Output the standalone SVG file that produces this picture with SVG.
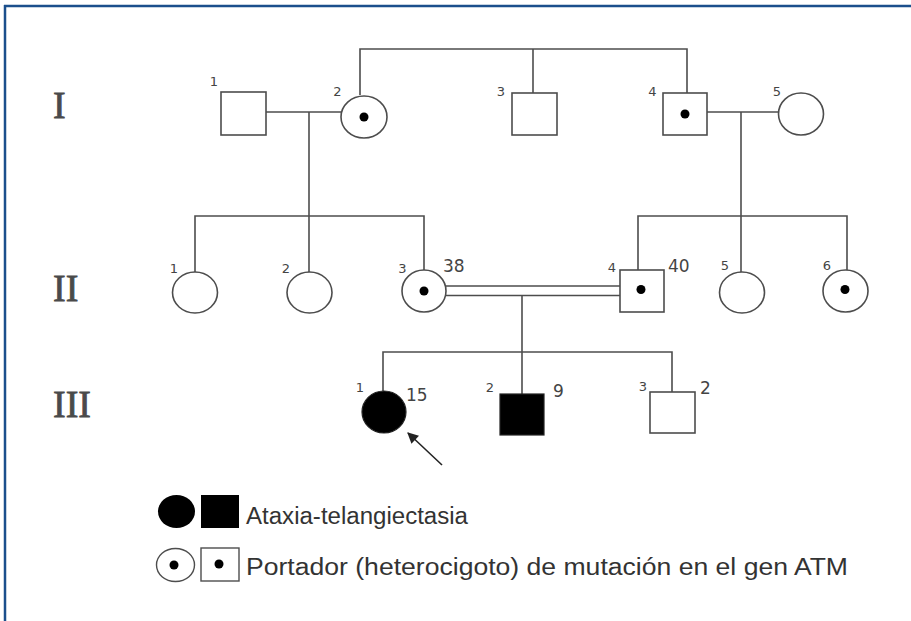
<svg xmlns="http://www.w3.org/2000/svg" width="911" height="621" viewBox="0 0 911 621">
<style>
.ln{stroke:#4d4d4d;stroke-width:1.6;fill:none}
.sh{stroke:#4d4d4d;stroke-width:1.6;fill:#fff}
.af{fill:#000;stroke:#222;stroke-width:1.2}
.dot{fill:#000}
.gen{font-family:"Liberation Serif","Times New Roman",serif;font-size:38px;fill:#4a4a4a;stroke:#4a4a4a;stroke-width:0.8}
.n{font-family:"DejaVu Sans",Verdana,sans-serif;font-size:13px;fill:#444;text-anchor:middle}
.age{font-family:"DejaVu Sans",Verdana,sans-serif;font-size:17px;fill:#444}
.lg{font-family:"Liberation Sans",Arial,sans-serif;font-size:23px;fill:#333}
</style>
<defs>
<marker id="ah" viewBox="0 0 10 10" refX="9" refY="5" markerWidth="14" markerHeight="11" orient="auto" markerUnits="userSpaceOnUse">
<path d="M0,0 L10,5 L0,10 z" fill="#222"/>
</marker>
</defs>
<rect width="911" height="621" fill="#fff"/>
<g id="frame">
<line x1="4" y1="6" x2="911" y2="6" stroke="#1b4f8c" stroke-width="2.5"/>
<line x1="5" y1="5" x2="5" y2="621" stroke="#1b4f8c" stroke-width="2.5"/>
</g>
<g id="generations">
<text class="gen" x="53" y="118">I</text>
<text class="gen" x="53" y="301">II</text>
<text class="gen" x="53" y="417">III</text>
</g>
<g id="connectors">
<polyline class="ln" points="360,95 360,49 687,49 687,93"/>
<line class="ln" x1="533" y1="49" x2="533" y2="93"/>
<line class="ln" x1="266" y1="112" x2="342" y2="112"/>
<line class="ln" x1="309" y1="112" x2="309" y2="272"/>
<line class="ln" x1="707" y1="112" x2="779" y2="112"/>
<line class="ln" x1="741" y1="112" x2="741" y2="272"/>
<polyline class="ln" points="195,272 195,216 424,216 424,270"/>
<polyline class="ln" points="638,270 638,216 847,216 847,270"/>
<line class="ln" x1="446" y1="286" x2="620" y2="286"/>
<line class="ln" x1="446" y1="295.5" x2="620" y2="295.5"/>
<line class="ln" x1="522" y1="295.5" x2="522" y2="394"/>
<polyline class="ln" points="383,391 383,352 672,352 672,392"/>
<line x1="442" y1="465" x2="408" y2="433" stroke="#222" stroke-width="1.6" marker-end="url(#ah)"/>
</g>
<g id="I-1"><rect class="sh" x="221" y="92" width="45" height="43"/><text class="n" x="214" y="86">1</text></g>
<g id="I-2"><ellipse class="sh" cx="364" cy="117" rx="23" ry="21"/><circle class="dot" cx="364" cy="117" r="4.5"/><text class="n" x="337.5" y="96">2</text></g>
<g id="I-3"><rect class="sh" x="512" y="93" width="45" height="42"/><text class="n" x="501" y="96">3</text></g>
<g id="I-4"><rect class="sh" x="663" y="93" width="44" height="42"/><circle class="dot" cx="685" cy="114" r="4.5"/><text class="n" x="652.5" y="96">4</text></g>
<g id="I-5"><ellipse class="sh" cx="801" cy="114" rx="22.5" ry="21"/><text class="n" x="777" y="96">5</text></g>
<g id="II-1"><ellipse class="sh" cx="195" cy="292.5" rx="22.5" ry="20.5"/><text class="n" x="174" y="273">1</text></g>
<g id="II-2"><ellipse class="sh" cx="309.5" cy="292.5" rx="22.5" ry="20.5"/><text class="n" x="286" y="273">2</text></g>
<g id="II-3"><ellipse class="sh" cx="424" cy="291" rx="22" ry="21"/><circle class="dot" cx="424" cy="291" r="4.5"/><text class="n" x="402.5" y="273">3</text><text class="age" x="443" y="272">38</text></g>
<g id="II-4"><rect class="sh" x="620" y="270" width="44" height="42"/><circle class="dot" cx="641" cy="289.5" r="4.5"/><text class="n" x="612" y="272">4</text><text class="age" x="668" y="272">40</text></g>
<g id="II-5"><ellipse class="sh" cx="742" cy="292.5" rx="22.5" ry="20.5"/><text class="n" x="725" y="270">5</text></g>
<g id="II-6"><ellipse class="sh" cx="845.5" cy="291" rx="22.5" ry="21"/><circle class="dot" cx="845" cy="289.5" r="4.5"/><text class="n" x="827" y="270">6</text></g>
<g id="III-1"><ellipse class="af" cx="384" cy="412" rx="22" ry="21"/><text class="n" x="360" y="392">1</text><text class="age" x="406" y="401">15</text></g>
<g id="III-2"><rect class="af" x="500" y="394" width="44" height="41"/><text class="n" x="490" y="392">2</text><text class="age" x="553" y="397">9</text></g>
<g id="III-3"><rect class="sh" x="650" y="392" width="45" height="41"/><text class="n" x="643" y="391">3</text><text class="age" x="700" y="394">2</text></g>
<g id="legend">
<ellipse cx="176.5" cy="511.5" rx="18.5" ry="16.5" fill="#000"/>
<rect x="201" y="495" width="38" height="33" fill="#000"/>
<text class="lg" x="246" y="524" textLength="222" lengthAdjust="spacingAndGlyphs">Ataxia-telangiectasia</text>
<ellipse cx="175.5" cy="565" rx="19" ry="16.5" fill="#fff" stroke="#4d4d4d" stroke-width="1.4"/>
<circle cx="174" cy="565" r="4.5" fill="#000"/>
<rect x="201" y="548" width="38" height="33" fill="#fff" stroke="#4d4d4d" stroke-width="1.4"/>
<circle cx="219" cy="564" r="4.5" fill="#000"/>
<text class="lg" x="246" y="575" textLength="602" lengthAdjust="spacingAndGlyphs">Portador (heterocigoto) de mutación en el gen ATM</text>
</g>
</svg>
